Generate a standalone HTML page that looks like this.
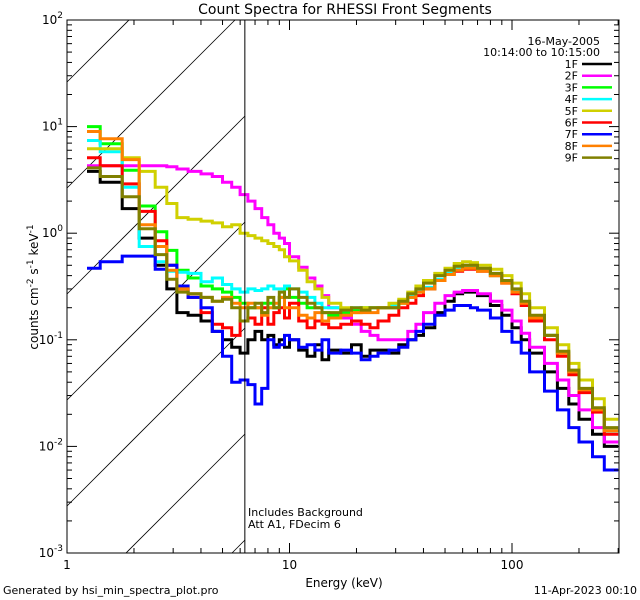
<!DOCTYPE html>
<html><head><meta charset="utf-8"><style>
html,body{margin:0;padding:0;background:#fff;width:640px;height:600px;overflow:hidden;}
svg{display:block;font-family:"DejaVu Sans","Liberation Sans",sans-serif;}
</style></head><body>
<svg id="chart" width="640" height="600" viewBox="0 0 640 600" xmlns="http://www.w3.org/2000/svg" overflow="hidden">
<rect x="0" y="0" width="640" height="600" fill="#fff"/>
<text x="345" y="14" font-size="14" text-anchor="middle">Count Spectra for RHESSI Front Segments</text>
<text x="344" y="587" font-size="12" text-anchor="middle">Energy (keV)</text>
<text transform="translate(38,287) rotate(-90)" font-size="12" text-anchor="middle">counts cm<tspan dy="-5" font-size="9">-2</tspan><tspan dy="5"> s</tspan><tspan dy="-5" font-size="9">-1</tspan><tspan dy="5"> keV</tspan><tspan dy="-5" font-size="9">-1</tspan></text>
<text x="3" y="594" font-size="11">Generated by hsi_min_spectra_plot.pro</text>
<text x="637" y="594" font-size="11" text-anchor="end">11-Apr-2023 00:10</text>
<text x="600" y="45" font-size="11" text-anchor="end">16-May-2005</text>
<text x="600" y="56" font-size="11" text-anchor="end">10:14:00 to 10:15:00</text>
<text x="248" y="516" font-size="11">Includes Background</text>
<text x="248" y="528" font-size="11">Att A1, FDecim 6</text>
<g id="hatch"></g>
<g id="series"></g>
<g id="axes"></g>
<g id="legend"></g>
</svg>
<script>
const edges = [1.23,1.41,1.77,2.11,2.49,2.81,3.12,3.5,4,4.5,5,5.5,6,6.5,7,7.5,8,8.5,9,9.5,10,11,12,13,14,15,17,19,21,23,25,28,31,34,37,40,45,50,55,60,65,70,80,90,100,110,120,140,160,180,200,230,260,300];
const seriesNames = ["1F","2F","3F","4F","5F","6F","7F","8F","9F"];
const s1F = [3.8,3.0,1.7,0.9,0.5,0.3,0.18,0.17,0.15,0.12,0.1,0.085,0.075,0.1,0.12,0.1,0.11,0.09,0.1,0.085,0.1,0.08,0.07,0.09,0.065,0.08,0.075,0.09,0.07,0.08,0.08,0.075,0.09,0.1,0.11,0.13,0.18,0.23,0.27,0.28,0.28,0.26,0.21,0.17,0.13,0.1,0.075,0.05,0.035,0.025,0.018,0.013,0.01];
const s2F = [4.3,4.3,4.3,4.3,4.3,4.2,4.0,3.8,3.6,3.4,3.0,2.7,2.3,2.0,1.7,1.4,1.2,1.0,0.9,0.8,0.6,0.48,0.38,0.32,0.26,0.2,0.16,0.14,0.12,0.11,0.1,0.1,0.1,0.12,0.14,0.18,0.22,0.26,0.28,0.29,0.29,0.27,0.23,0.19,0.15,0.115,0.085,0.06,0.042,0.03,0.022,0.015,0.011];
const s3F = [10,6.9,3.9,1.8,1.03,0.69,0.45,0.38,0.32,0.3,0.28,0.25,0.22,0.2,0.2,0.22,0.22,0.2,0.25,0.3,0.25,0.22,0.2,0.2,0.18,0.17,0.18,0.19,0.2,0.2,0.2,0.2,0.22,0.25,0.28,0.3,0.36,0.42,0.46,0.48,0.48,0.45,0.4,0.35,0.28,0.22,0.16,0.11,0.075,0.05,0.034,0.022,0.014];
const s4F = [7.4,5.8,2.7,0.75,0.54,0.44,0.43,0.42,0.35,0.38,0.33,0.3,0.28,0.3,0.29,0.3,0.32,0.3,0.3,0.32,0.3,0.28,0.25,0.22,0.2,0.2,0.19,0.2,0.19,0.2,0.2,0.21,0.23,0.26,0.29,0.31,0.37,0.42,0.46,0.48,0.48,0.45,0.41,0.35,0.29,0.22,0.16,0.11,0.076,0.05,0.034,0.022,0.014];
const s5F = [6.2,6.2,5.1,3.8,2.7,1.9,1.4,1.35,1.3,1.25,1.15,1.2,1.0,0.95,0.9,0.85,0.8,0.75,0.7,0.6,0.55,0.45,0.35,0.3,0.25,0.22,0.2,0.18,0.2,0.2,0.2,0.22,0.24,0.28,0.32,0.36,0.42,0.47,0.52,0.54,0.53,0.5,0.46,0.4,0.34,0.27,0.2,0.13,0.09,0.06,0.042,0.028,0.018];
const s6F = [5.1,4.3,2.9,1.6,0.85,0.5,0.3,0.25,0.18,0.14,0.13,0.11,0.15,0.16,0.14,0.2,0.14,0.18,0.2,0.16,0.22,0.15,0.13,0.15,0.14,0.13,0.14,0.15,0.14,0.13,0.15,0.17,0.2,0.22,0.26,0.3,0.36,0.41,0.44,0.46,0.46,0.44,0.4,0.34,0.27,0.21,0.15,0.1,0.07,0.047,0.032,0.021,0.013];
const s7F = [0.47,0.54,0.61,0.61,0.46,0.5,0.32,0.25,0.2,0.12,0.07,0.04,0.042,0.038,0.025,0.035,0.1,0.085,0.09,0.11,0.1,0.085,0.09,0.08,0.1,0.075,0.08,0.075,0.065,0.07,0.075,0.08,0.085,0.1,0.12,0.14,0.17,0.19,0.21,0.21,0.2,0.19,0.16,0.12,0.095,0.075,0.05,0.033,0.022,0.015,0.011,0.008,0.006];
const s8F = [9,7.7,4.9,1.2,0.75,0.45,0.3,0.27,0.25,0.23,0.25,0.22,0.2,0.22,0.2,0.17,0.2,0.22,0.25,0.2,0.2,0.17,0.16,0.18,0.15,0.16,0.17,0.18,0.18,0.18,0.2,0.2,0.22,0.25,0.28,0.3,0.36,0.41,0.45,0.47,0.47,0.44,0.4,0.34,0.28,0.22,0.16,0.11,0.075,0.05,0.034,0.022,0.014];
const s9F = [4.1,3.4,2.2,1.1,0.63,0.37,0.28,0.27,0.25,0.23,0.24,0.2,0.15,0.2,0.22,0.18,0.25,0.2,0.28,0.25,0.3,0.25,0.22,0.2,0.18,0.18,0.19,0.2,0.19,0.2,0.2,0.2,0.23,0.27,0.3,0.34,0.4,0.45,0.49,0.5,0.5,0.47,0.42,0.36,0.3,0.23,0.17,0.11,0.078,0.052,0.035,0.023,0.015];
const allSeries = [s1F,s2F,s3F,s4F,s5F,s6F,s7F,s8F,s9F];
const colors = ["#000000","#ff00ff","#00ff00","#00ffff","#d0d000","#ff0000","#0000ff","#ff8000","#808000"];
const xTickValues = [1,10,100];
const xTickLabels = ["1","10","100"];
const yTickExps = [-3,-2,-1,0,1,2];

const NS="http://www.w3.org/2000/svg";
const X0=67,X1=619,Y0=20,Y1=553;
const DEC_X=222.5, XMIN=1, YMINEXP=-3, DEC_Y=(Y1-Y0)/5;
function xs(e){return X0+Math.log10(e/XMIN)*DEC_X;}
function ys(v){return Y1-(Math.log10(v)-YMINEXP)*DEC_Y;}
function mk(tag,attrs,parent){const el=document.createElementNS(NS,tag);for(const k in attrs)el.setAttribute(k,attrs[k]);parent.appendChild(el);return el;}

const defs=mk('defs',{},document.getElementById('chart'));
const cp=mk('clipPath',{id:'plotclip'},defs);
mk('rect',{x:X0,y:Y0,width:X1-X0,height:Y1-Y0},cp);
const xv=xs(6.3);

// hatch: lines of slope 1 (x+y = c), clipped analytically to [X0,xv]x[Y0,Y1]
const hg=document.getElementById('hatch');
for(let k=-2;k<10;k++){
  const c=X0+82+k*106;
  let xa=Math.max(X0,c-Y1), xb=Math.min(xv,c-Y0);
  if(xb<=xa) continue;
  const ln=mk('line',{x1:xa,y1:c-xa,x2:xb,y2:c-xb,stroke:'#000','stroke-width':0.8},hg);
  
  
}
const vl=mk('line',{x1:xv,y1:Y0,x2:xv,y2:Y1,stroke:'#000','stroke-width':1},document.getElementById('axes'));



const sg=document.getElementById('series');
sg.setAttribute('clip-path','url(#plotclip)');
allSeries.forEach((vals,i)=>{
  let d='';
  for(let j=0;j<vals.length;j++){
    const a=xs(edges[j]),b=Math.min(X1,xs(edges[j+1])),y=ys(vals[j]);
    d+=(j===0?'M':'L')+a.toFixed(1)+','+y.toFixed(1)+'L'+b.toFixed(1)+','+y.toFixed(1);
  }
  const p=mk('path',{d:d,fill:'none',stroke:colors[i],'stroke-width':3,'stroke-linejoin':'miter'},sg);
  
  
});

const ag=document.getElementById('axes');
const frame=mk('rect',{x:X0,y:Y0,width:X1-X0,height:Y1-Y0,fill:'none',stroke:'#000','stroke-width':1},ag);


for(let dec=1;dec<=100;dec*=10){
  for(let m=1;m<10;m++){
    const e=dec*m; if(e>300)break;
    const x=xs(e), L=(m===1)?10:5;
    mk('line',{x1:x,y1:Y1,x2:x,y2:Y1-L,stroke:'#000'},ag);
    mk('line',{x1:x,y1:Y0,x2:x,y2:Y0+L,stroke:'#000'},ag);
  }
}
xTickValues.forEach((v,i)=>{
  const t=mk('text',{x:xs(v),y:Y1+16,'font-size':12,'text-anchor':'middle'},ag);
  t.textContent=xTickLabels[i];
  
  
});
yTickExps.forEach(ex=>{
  for(let m=1;m<10;m++){
    const v=m*Math.pow(10,ex); const y=ys(v);
    if(y<Y0-0.5)break;
    const L=(m===1)?10:5;
    mk('line',{x1:X0,y1:y,x2:X0+L,y2:y,stroke:'#000'},ag);
    mk('line',{x1:X1,y1:y,x2:X1-L,y2:y,stroke:'#000'},ag);
  }
  const t=mk('text',{x:X0-4,y:ys(Math.pow(10,ex))+4,'font-size':12,'text-anchor':'end'},ag);
  t.innerHTML='10<tspan dy="-6" font-size="9">'+ex+'</tspan>';
  
  
});

const lg=document.getElementById('legend');
seriesNames.forEach((n,i)=>{
  const y=64+i*11.7;
  const t=mk('text',{x:578,y:y+4,'font-size':11,'text-anchor':'end'},lg);
  t.textContent=n;
  
  
  const l=mk('line',{x1:582,y1:y,x2:612,y2:y,stroke:colors[i],'stroke-width':2.5},lg);
  
  
});
</script>
</body></html>
